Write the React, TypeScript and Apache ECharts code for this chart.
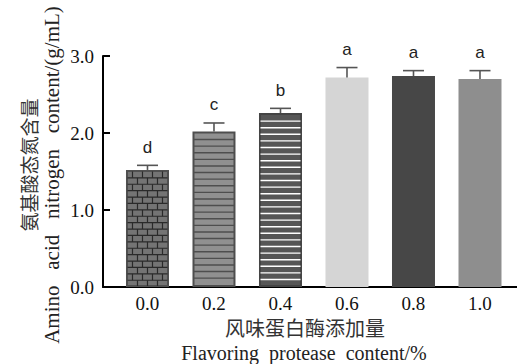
import React, { useEffect, useRef } from "react";
import * as echarts from "echarts";

// ---- data ----
const contents = [0, 0.2, 0.4, 0.6, 0.8, 1.0];
const nitrogen = [1.52, 2.02, 2.26, 2.72, 2.74, 2.7];
const errors = [0.06, 0.11, 0.06, 0.13, 0.07, 0.11];
const letters = ["d", "c", "b", "a", "a", "a"];
const yTickValues = [0, 1, 2, 3];

// ---- styles ----
const barFill = ["#747474", "#909090", "#565656", "#d5d5d5", "#474747", "#8e8e8e"];
const barBorder = ["#505050", "#4e4e4e", "#444444", "#d5d5d5", "#474747", "#8e8e8e"];
const barBorderW = [2, 2, 2, 0, 0, 0];
const patterns = ["brick", "stripeDark", "stripeWhite", "none", "none", "none"];
const BAR_W = 43;
const SERIF = '"Liberation Serif", "DejaVu Serif", serif';
const SANS = '"Liberation Sans", Arial, sans-serif';
const CJK = '"Noto Sans CJK SC", sans-serif';
const NB = "\u00a0";

export default function App() {
  const ref = useRef<HTMLDivElement>(null);
  useEffect(() => {
    if (!ref.current) return;
    const chart = echarts.init(ref.current, null, { renderer: "svg" });

    const patternItem = (params: any, api: any) => {
      const i = api.value(2);
      const kind = patterns[i];
      if (kind === "none") return { type: "group", children: [] };
      const top = api.coord([api.value(0), api.value(1)]);
      const bot = api.coord([api.value(0), 0]);
      const left = top[0] - BAR_W / 2 + 1.5;
      const right = top[0] + BAR_W / 2 - 1.5;
      const yTop = top[1] + 1.5;
      const yBot = bot[1] - 1;
      const children: any[] = [];
      if (kind === "brick") {
        const rowH = 6.4;
        const bw = 10;
        let r = 0;
        for (let y = yTop; y < yBot; y += rowH, r++) {
          if (y > yTop) {
            children.push({
              type: "line",
              shape: { x1: left, y1: y, x2: right, y2: y },
              style: { stroke: "#2a2a2a", lineWidth: 1.2 },
            });
          }
          const off = r % 2 ? bw / 2 : 0;
          const y2 = Math.min(y + rowH, yBot);
          for (let x = left + off + bw / 2; x < right - 1; x += bw) {
            children.push({
              type: "line",
              shape: { x1: x, y1: y, x2: x, y2 },
              style: { stroke: "#2a2a2a", lineWidth: 1.2 },
            });
          }
        }
      } else {
        const gap = 6.6;
        const color = kind === "stripeDark" ? "#4e4e4e" : "#ffffff";
        for (let y = yTop + gap; y < yBot - 2; y += gap) {
          children.push({
            type: "line",
            shape: { x1: left, y1: y, x2: right, y2: y },
            style: { stroke: color, lineWidth: 1.4 },
          });
        }
      }
      return { type: "group", children };
    };

    const errorItem = (params: any, api: any) => {
      const x = api.value(0);
      const v = api.value(1);
      const e = api.value(2);
      const i = api.value(3);
      const top = api.coord([x, v]);
      const cap = api.coord([x, v + e]);
      return {
        type: "group",
        children: [
          {
            type: "line",
            shape: { x1: top[0], y1: top[1], x2: cap[0], y2: cap[1] },
            style: { stroke: "#555", lineWidth: 1.6 },
          },
          {
            type: "line",
            shape: { x1: cap[0] - 10.5, y1: cap[1], x2: cap[0] + 10.5, y2: cap[1] },
            style: { stroke: "#555", lineWidth: 1.6 },
          },
          {
            type: "text",
            style: {
              text: letters[i],
              x: cap[0],
              y: cap[1] - 18,
              fill: "#222",
              font: `17px ${SANS}`,
              align: "center",
              verticalAlign: "middle",
              textAlign: "center",
              textVerticalAlign: "middle",
            },
          },
        ],
      };
    };

    chart.setOption({
      animation: false,
      backgroundColor: "#ffffff",
      grid: { left: 103, right: 0, top: 56, bottom: 77, containLabel: false },
      xAxis: {
        type: "value",
        min: -0.1338,
        max: 1.1113,
        axisLine: { show: true, onZero: false, lineStyle: { color: "#000", width: 2 } },
        axisTick: { show: false },
        splitLine: { show: false },
        axisLabel: {
          customValues: contents,
          formatter: (v: number) => v.toFixed(1),
          color: "#111",
          fontFamily: SERIF,
          fontSize: 19,
          margin: 7,
        },
      },
      yAxis: {
        type: "value",
        min: 0,
        max: 3,
        interval: 1,
        axisLine: { show: true, onZero: false, lineStyle: { color: "#000", width: 2 } },
        axisTick: {
          show: true,
          inside: true,
          length: 7,
          lineStyle: { color: "#000", width: 2 },
          customValues: yTickValues,
        },
        splitLine: { show: false },
        axisLabel: {
          customValues: yTickValues,
          formatter: (v: number) => v.toFixed(1),
          color: "#111",
          fontFamily: SERIF,
          fontSize: 19,
          margin: 9,
        },
      },
      graphic: [
        {
          type: "text",
          x: 28,
          y: 165,
          rotation: Math.PI / 2,
          style: {
            text: "氨基酸态氮含量",
            font: `19px ${CJK}`,
            fill: "#333",
            align: "center",
            verticalAlign: "middle",
          },
        },
        {
          type: "text",
          x: 52,
          y: 175,
          rotation: Math.PI / 2,
          style: {
            text: `Amino${NB}${NB}${NB}acid${NB}${NB}${NB}nitrogen${NB}${NB}${NB}content/(g/mL)`,
            font: `21px ${SERIF}`,
            fill: "#222",
            align: "center",
            verticalAlign: "middle",
          },
        },
        {
          type: "text",
          x: 305,
          y: 327,
          style: {
            text: "风味蛋白酶添加量",
            font: `20px ${CJK}`,
            fill: "#333",
            align: "center",
            verticalAlign: "middle",
          },
        },
        {
          type: "text",
          x: 304,
          y: 353,
          style: {
            text: `Flavoring${NB}${NB}protease${NB}${NB}content/%`,
            font: `20px ${SERIF}`,
            fill: "#222",
            align: "center",
            verticalAlign: "middle",
          },
        },
      ],
      series: [
        {
          type: "bar",
          barWidth: BAR_W,
          data: contents.map((x, i) => ({
            value: [x, nitrogen[i]],
            itemStyle: {
              color: barFill[i],
              borderColor: barBorder[i],
              borderWidth: barBorderW[i],
            },
          })),
          silent: true,
        },
        {
          type: "custom",
          renderItem: patternItem,
          data: contents.map((x, i) => [x, nitrogen[i], i]),
          silent: true,
          z: 3,
        },
        {
          type: "custom",
          renderItem: errorItem,
          data: contents.map((x, i) => [x, nitrogen[i], errors[i], i]),
          silent: true,
          z: 4,
        },
      ],
    });
    return () => chart.dispose();
  }, []);
  return (
    <div
      ref={ref}
      style={{ position: "absolute", left: 0, top: 0, width: 517, height: 364 }}
    />
  );
}
